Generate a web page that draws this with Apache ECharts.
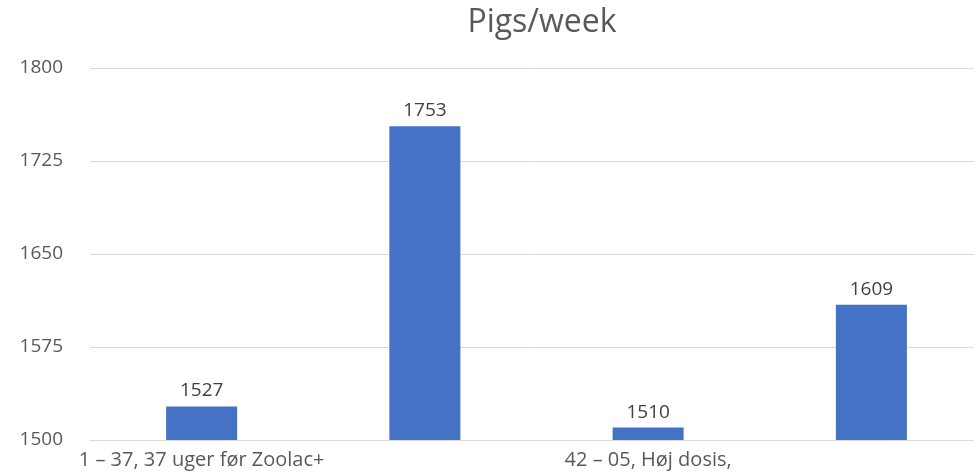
<!DOCTYPE html>
<html>
<head>
<meta charset="utf-8">
<script src="https://cdn.jsdelivr.net/npm/echarts@6/dist/echarts.min.js"></script>
<style>
  html, body { margin: 0; padding: 0; background: #fff; }
  #chart { width: 974px; height: 474px; }
</style>
</head>
<body>
<div id="chart"></div>
<script>
// categories (labels of the 2nd and 4th bar are not shown in the picture)
var categories = ['1 – 37, 37 uger før Zoolac+', '', '42 – 05, Høj dosis,', ''];
var pigsPerWeek = [1527, 1753, 1510, 1609];
var yMin = 1500, yMax = 1800, yStep = 75;

var chart = echarts.init(document.getElementById('chart'));
var option = {
    animation: false,
    title: {
        text: 'Pigs/week',
        left: 537,
        textAlign: 'center',
        top: 2,
        textStyle: {
            fontFamily: 'Open Sans',
            fontWeight: 'normal',
            fontSize: 32,
            color: '#595959'
        }
    },
    grid: {
        left: 90,
        top: 68,
        width: 893,
        height: 372,
        outerBoundsMode: 'none',
        containLabel: false
    },
    xAxis: {
        type: 'category',
        data: categories,
        axisLine: { lineStyle: { color: '#d9d9d9', width: 1 } },
        axisTick: { show: false },
        axisLabel: {
            interval: 0,
            margin: 10,
            fontFamily: 'Open Sans',
            fontSize: 20,
            color: '#595959'
        }
    },
    yAxis: {
        type: 'value',
        min: yMin,
        max: yMax,
        interval: yStep,
        axisLine: { show: false },
        axisTick: { show: false },
        splitLine: { lineStyle: { color: '#d9d9d9', width: 1 } },
        axisLabel: {
            margin: 27,
            fontFamily: 'Open Sans',
            fontSize: 19,
            color: '#595959',
            formatter: function (v) { return String(v); }
        }
    },
    series: [
        {
            type: 'bar',
            data: pigsPerWeek,
            barWidth: 71,
            itemStyle: { color: '#4472c4' },
            label: {
                show: true,
                position: 'top',
                distance: 6,
                fontFamily: 'Open Sans',
                fontSize: 19,
                color: '#404040'
            }
        }
    ]
};
chart.setOption(option);
</script>
</body>
</html>
